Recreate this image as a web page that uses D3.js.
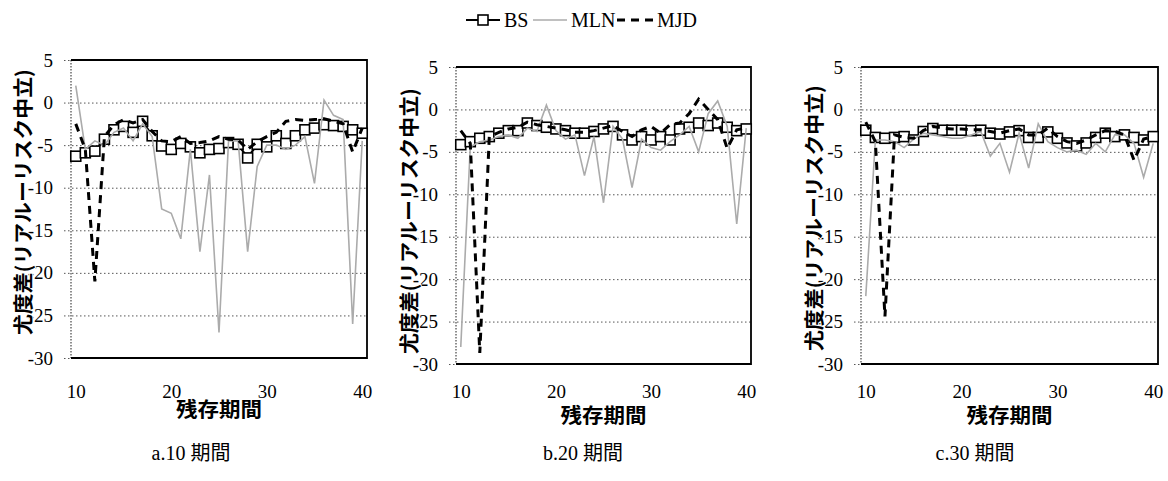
<!DOCTYPE html>
<html><head><meta charset="utf-8">
<script src="https://cdn.jsdelivr.net/npm/d3@7"></script>
<style>body{margin:0;background:#fff}svg{display:block}
.serif{font-family:"Liberation Serif","DejaVu Serif",serif}
.cap{font-family:"Liberation Serif","Noto Sans CJK JP",serif}
.cjk{font-family:"Noto Sans CJK JP","Noto Sans CJK SC",sans-serif;font-weight:bold}
</style>
</head><body>
<svg id="c" width="1168" height="481"></svg>
<script>
// ---- data ----
const periods = [10,11,12,13,14,15,16,17,18,19,20,21,22,23,24,25,26,27,28,29,30,31,32,33,34,35,36,37,38,39,40];
const seriesNames = ["BS","MLN","MJD"];
const panelTitles = ["a.10 期間","b.20 期間","c.30 期間"];
const yTicks = [5,0,-5,-10,-15,-20,-25,-30];
const xTicks = [10,20,30,40];
const yTitle = "尤度差(リアルーリスク中立)";
const xTitle = "残存期間";

const bsA  = [-6.3,-5.9,-5.7,-4.3,-3.2,-2.8,-3.5,-2.2,-3.9,-5.1,-5.5,-4.8,-5.2,-5.9,-5.5,-5.4,-4.7,-4.9,-6.5,-4.9,-5.2,-3.9,-4.8,-3.9,-3.2,-3.0,-2.6,-2.7,-2.8,-3.2,-3.6];
const mlnA = [2.0,-5.5,-4.5,-5.0,-3.5,-3.0,-4.5,-2.5,-4.0,-12.5,-13.0,-16.0,-5.5,-17.5,-8.5,-27.0,-4.5,-4.5,-17.5,-7.5,-5.0,-5.0,-5.5,-5.0,-4.0,-9.5,0.3,-1.5,-2.0,-26.0,-4.5];
const mjdA = [-2.5,-5.5,-21.0,-4.0,-2.6,-2.0,-2.4,-2.0,-3.4,-4.5,-4.6,-4.0,-4.8,-4.7,-4.5,-4.0,-4.3,-4.4,-5.5,-4.6,-4.0,-3.5,-2.2,-2.0,-2.1,-2.0,-1.9,-2.2,-2.5,-5.8,-3.0];

const bsB  = [-4.15,-3.8,-3.4,-3.2,-2.8,-2.5,-2.5,-1.6,-1.9,-2.1,-2.3,-2.5,-2.8,-2.8,-2.6,-2.3,-2.0,-3.0,-3.6,-3.2,-3.6,-3.2,-3.6,-2.3,-2.1,-1.6,-1.9,-1.6,-2.1,-2.5,-2.3];
const mlnB = [-28.0,-4.4,-3.8,-3.6,-3.2,-3.0,-3.4,-2.2,-2.6,0.5,-2.5,-3.5,-3.0,-7.8,-3.2,-11.0,-2.0,-3.5,-9.2,-3.5,-4.5,-4.8,-3.8,-3.0,-2.0,-5.0,-0.5,1.0,-2.0,-13.5,-2.2];
const mjdB = [-2.5,-4.0,-28.7,-3.2,-2.7,-2.3,-2.1,-1.5,-1.8,-2.0,-2.2,-2.4,-2.7,-2.7,-2.5,-2.2,-1.9,-2.6,-3.2,-2.4,-2.0,-2.8,-1.8,-1.6,-0.5,1.2,0.0,-1.2,-4.6,-2.4,-2.2];

const bsC  = [-2.45,-3.3,-3.4,-3.3,-3.2,-3.6,-2.6,-2.25,-2.45,-2.45,-2.45,-2.5,-2.45,-2.8,-2.9,-2.65,-2.5,-3.3,-3.3,-2.65,-3.4,-3.95,-4.3,-3.95,-3.3,-2.8,-3.2,-3.0,-3.3,-3.6,-3.2];
const mlnC = [-22.0,-3.6,-3.6,-3.8,-4.5,-3.5,-2.8,-3.0,-3.2,-3.4,-3.4,-3.0,-2.6,-5.5,-4.0,-7.4,-2.8,-6.9,-1.7,-3.8,-4.5,-5.0,-4.8,-5.3,-4.0,-5.0,-3.0,-3.0,-4.0,-8.0,-4.0];
const mjdC = [-1.5,-3.8,-24.4,-3.0,-3.3,-3.4,-2.5,-2.0,-2.2,-2.3,-2.3,-2.4,-2.4,-2.6,-2.8,-2.5,-2.3,-3.0,-3.0,-2.2,-3.2,-3.8,-4.0,-3.6,-3.0,-2.5,-2.6,-3.0,-6.0,-3.5,-3.2];

// ---- layout (not data) ----
const layout = [
  {left:71,  right:367,  top:60, bottom:358, yTitleX:22,  yTitleY:202, subX:191},
  {left:456, right:751,  top:67, bottom:364, yTitleX:408, yTitleY:221, subX:583},
  {left:861, right:1158, top:67, bottom:364, yTitleX:813, yTitleY:218, subX:975}
];
const panelData = [[bsA,mlnA,mjdA],[bsB,mlnB,mjdB],[bsC,mlnC,mjdC]];

const svg = d3.select("#c");

layout.forEach((L, pi) => {
  const x = d3.scaleLinear().domain([9.5, 40.5]).range([L.left, L.right]);
  const y = d3.scaleLinear().domain([-30, 5]).range([L.bottom, L.top]);
  const g = svg.append("g");
  const w = L.right - L.left;

  // y axis with gridlines
  const ya = g.append("g").attr("transform", `translate(${L.left},0)`)
    .call(d3.axisLeft(y).tickValues(yTicks).tickSizeOuter(0).tickSizeInner(7).tickPadding(11).tickFormat(d => String(d)));
  ya.attr("font-family", null).attr("font-size", null);
  ya.select(".domain").remove();
  ya.selectAll(".tick line").attr("x1", -7).attr("x2", d => (d === 5 || d === -30) ? 0 : w)
    .attr("stroke", "#555").attr("stroke-width", 1).attr("stroke-dasharray", "1.5,2.5");
  ya.selectAll(".tick text").attr("class", "serif").style("font-size", "19px").attr("fill", "#000");

  // x tick labels
  const xa = g.append("g").attr("transform", `translate(0,${L.bottom})`)
    .call(d3.axisBottom(x).tickValues(xTicks).tickSize(0).tickPadding(0).tickFormat(d => String(d)));
  xa.attr("font-family", null).attr("font-size", null);
  xa.select(".domain").remove();
  xa.selectAll(".tick text").attr("class", "serif").style("font-size", "19px").attr("fill", "#000")
    .attr("dy", null).attr("y", 398 - L.bottom);

  // frame: left dotted, others solid
  g.append("line").attr("x1", L.left).attr("x2", L.left).attr("y1", L.top).attr("y2", L.bottom)
    .attr("stroke", "#444").attr("stroke-width", 1.2).attr("stroke-dasharray", "1.5,1.5");
  g.append("path").attr("d", `M${L.left},${L.top}H${L.right}V${L.bottom}H${L.left}`)
    .attr("fill", "none").attr("stroke", "#000").attr("stroke-width", 1.8);

  const [bs, mln, mjd] = panelData[pi];
  const line = d3.line().x((d, i) => x(periods[i])).y(d => y(d));

  // BS line + markers
  g.append("path").datum(bs).attr("d", line).attr("fill", "none").attr("stroke", "#000").attr("stroke-width", 2.2);
  g.selectAll("rect.bs").data(bs).join("rect").attr("class", "bs")
    .attr("x", (d, i) => x(periods[i]) - 5).attr("y", d => y(d) - 5)
    .attr("width", 10).attr("height", 10).attr("fill", "#fff").attr("stroke", "#000").attr("stroke-width", 1.6);
  // MLN
  g.append("path").datum(mln).attr("d", line).attr("fill", "none").attr("stroke", "#ababab").attr("stroke-width", 1.6);
  // MJD
  g.append("path").datum(mjd).attr("d", line).attr("fill", "none").attr("stroke", "#000")
    .attr("stroke-width", 3).attr("stroke-dasharray", "8,6");

  // axis titles
  g.append("text").attr("class", "cjk").attr("transform", `translate(${L.yTitleX},${L.yTitleY}) rotate(-90)`)
    .attr("text-anchor", "middle").attr("dominant-baseline", "central")
    .style("font-size", "20px")
    .attr("textLength", 266).attr("lengthAdjust", "spacingAndGlyphs")
    .attr("stroke", "#fff").attr("stroke-width", 2).attr("paint-order", "stroke")
    .text(yTitle);
  g.append("text").attr("class", "cjk").attr("x", (L.left + L.right) / 2).attr("y", L.bottom + 50)
    .attr("text-anchor", "middle").attr("dominant-baseline", "central")
    .style("font-size", "20px")
    .attr("textLength", 86).attr("lengthAdjust", "spacingAndGlyphs")
    .text(xTitle);

  // panel caption
  g.append("text").attr("class", "cap").attr("x", L.subX).attr("y", 460).attr("text-anchor", "middle")
    .style("font-size", "20px").text(panelTitles[pi]);
});

// ---- legend ----
const lg = svg.append("g").attr("class", "serif").style("font-size", "20px");
const ly = 20;
lg.append("line").attr("x1", 466).attr("x2", 500).attr("y1", ly).attr("y2", ly).attr("stroke", "#000").attr("stroke-width", 2.2);
lg.append("rect").attr("x", 478).attr("y", ly - 5).attr("width", 10).attr("height", 10).attr("fill", "#fff").attr("stroke", "#000").attr("stroke-width", 1.6);
lg.append("text").attr("x", 504).attr("y", ly + 7).text(seriesNames[0]);
lg.append("line").attr("x1", 533).attr("x2", 567).attr("y1", ly).attr("y2", ly).attr("stroke", "#ababab").attr("stroke-width", 1.6);
lg.append("text").attr("x", 571).attr("y", ly + 7).text(seriesNames[1]);
lg.append("line").attr("x1", 617).attr("x2", 656).attr("y1", ly).attr("y2", ly).attr("stroke", "#000").attr("stroke-width", 3).attr("stroke-dasharray", "8,6");
lg.append("text").attr("x", 657).attr("y", ly + 7).text(seriesNames[2]);
</script>
</body></html>
